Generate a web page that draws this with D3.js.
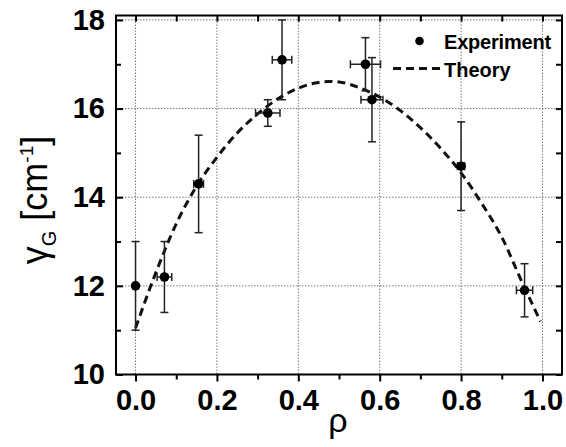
<!DOCTYPE html>
<html>
<head>
<meta charset="utf-8">
<script src="https://cdn.jsdelivr.net/npm/d3@7"></script>
<style>
  body { margin: 0; background: #fff; }
  svg { display: block; font-family: "Liberation Sans", Arial, sans-serif; }
</style>
</head>
<body>
<svg id="chart" width="566" height="447"></svg>
<script>
// experiment: rho, gamma_G and the error bars
const rho     = [0.0, 0.071, 0.155, 0.325, 0.36, 0.565, 0.581, 0.80, 0.956];
const gammaG  = [12.0, 12.2, 14.3, 15.9, 17.1, 17.0, 16.2, 14.7, 11.9];
const yErr    = [1.0, 0.8, 1.1, 0.3, 0.9, 0.6, 0.95, 1.0, 0.6];
const xErr    = [0, 0.018, 0.012, 0.03, 0.024, 0.037, 0.027, 0.009, 0.02];

// theory curve (dashed)
const theoryRho   = [0.0, 0.05, 0.1, 0.15, 0.2, 0.25, 0.3, 0.35, 0.4, 0.45, 0.475, 0.5, 0.55, 0.6, 0.65, 0.7, 0.75, 0.8, 0.85, 0.9, 0.95, 0.995];
const theoryGamma = [11.05, 12.3, 13.4, 14.25, 14.9, 15.45, 15.88, 16.22, 16.46, 16.59, 16.61, 16.6, 16.47, 16.26, 15.96, 15.57, 15.1, 14.55, 13.87, 13.1, 12.08, 11.2];

const xTicks = [0.0, 0.2, 0.4, 0.6, 0.8, 1.0];
const xMinor = [0.1, 0.3, 0.5, 0.7, 0.9];
const yTicks = [10, 12, 14, 16, 18];
const yMinor = [11, 13, 15, 17];

const svg = d3.select("#chart");
const pl = 116, pr = 562, pt = 15.5, pb = 374.5;

const x = d3.scaleLinear().domain([-0.048, 1.048]).range([pl, pr]);
const y = d3.scaleLinear().domain([10, 18.1]).range([pb, pt]);

svg.append("rect").attr("width", 566).attr("height", 447).attr("fill", "#fff");

// dotted grid
const grid = svg.append("g").attr("stroke", "#777").attr("stroke-width", 1).attr("stroke-dasharray", "1.5,1.5");
grid.selectAll(".gx").data(xTicks).enter().append("line")
  .attr("x1", d => x(d)).attr("x2", d => x(d)).attr("y1", pt).attr("y2", pb);
grid.selectAll(".gy").data(yTicks.filter(d => d > 10)).enter().append("line")
  .attr("y1", d => y(d)).attr("y2", d => y(d)).attr("x1", pl).attr("x2", pr);

// axes (Origin style: bottom ticks out, others in)
function styleAxis(g) {
  g.select(".domain").remove();
  g.selectAll(".tick line").attr("stroke", "#000").attr("stroke-width", 2);
  g.selectAll("text").attr("font-size", 29).attr("font-weight", "bold").attr("fill", "#000")
    .attr("font-family", "'Liberation Sans', Arial, sans-serif");
}

svg.append("g").attr("transform", `translate(0,${pb})`)
  .call(d3.axisBottom(x).tickValues(xTicks).tickSize(7).tickPadding(8).tickFormat(d3.format(".1f")))
  .call(styleAxis);
svg.append("g").attr("transform", `translate(0,${pb})`)
  .call(d3.axisBottom(x).tickValues(xMinor).tickSize(5).tickFormat(""))
  .call(styleAxis);

svg.append("g").attr("transform", `translate(0,${pt})`)
  .call(d3.axisTop(x).tickValues(xTicks.concat(xMinor)).tickSize(-6).tickFormat(""))
  .call(styleAxis);

svg.append("g").attr("transform", `translate(${pl},0)`)
  .call(d3.axisLeft(y).tickValues(yTicks).tickSize(-7).tickPadding(11).tickFormat(d3.format("d")))
  .call(styleAxis);
svg.append("g").attr("transform", `translate(${pl},0)`)
  .call(d3.axisLeft(y).tickValues(yMinor).tickSize(-5).tickFormat(""))
  .call(styleAxis);

svg.append("g").attr("transform", `translate(${pr},0)`)
  .call(d3.axisRight(y).tickValues(yTicks.concat(yMinor)).tickSize(-6).tickFormat(""))
  .call(styleAxis);

// frame
svg.append("rect").attr("x", pl).attr("y", pt).attr("width", pr - pl).attr("height", pb - pt)
  .attr("fill", "none").attr("stroke", "#000").attr("stroke-width", 2);

// theory
const theory = theoryRho.map((r, i) => [r, theoryGamma[i]]);
svg.append("path").datum(theory)
  .attr("d", d3.line().x(d => x(d[0])).y(d => y(d[1])).curve(d3.curveMonotoneX))
  .attr("fill", "none").attr("stroke", "#111").attr("stroke-width", 3)
  .attr("stroke-dasharray", "8,5");

// experiment with error bars
const pts = rho.map((r, i) => ({ r: r, g: gammaG[i], ey: yErr[i], ex: xErr[i] }));
const eb = svg.append("g").attr("stroke", "#222").attr("stroke-width", 1.5);
const cap = 4;
pts.forEach(d => {
  eb.append("line").attr("x1", x(d.r)).attr("x2", x(d.r)).attr("y1", y(d.g - d.ey)).attr("y2", y(d.g + d.ey));
  eb.append("line").attr("x1", x(d.r) - cap).attr("x2", x(d.r) + cap).attr("y1", y(d.g + d.ey)).attr("y2", y(d.g + d.ey));
  eb.append("line").attr("x1", x(d.r) - cap).attr("x2", x(d.r) + cap).attr("y1", y(d.g - d.ey)).attr("y2", y(d.g - d.ey));
  if (d.ex > 0) {
    eb.append("line").attr("x1", x(d.r - d.ex)).attr("x2", x(d.r + d.ex)).attr("y1", y(d.g)).attr("y2", y(d.g));
    eb.append("line").attr("x1", x(d.r - d.ex)).attr("x2", x(d.r - d.ex)).attr("y1", y(d.g) - cap).attr("y2", y(d.g) + cap);
    eb.append("line").attr("x1", x(d.r + d.ex)).attr("x2", x(d.r + d.ex)).attr("y1", y(d.g) - cap).attr("y2", y(d.g) + cap);
  }
});
svg.selectAll(".pt").data(pts).enter().append("circle")
  .attr("cx", d => x(d.r)).attr("cy", d => y(d.g)).attr("r", 4.8).attr("fill", "#000");

// legend
const lg = svg.append("g");
lg.append("circle").attr("cx", 419.5).attr("cy", 41).attr("r", 4.3).attr("fill", "#000");
lg.append("text").attr("x", 444).attr("y", 48.5).text("Experiment")
  .attr("font-size", 20).attr("font-weight", "bold").attr("letter-spacing", "-0.2");
lg.append("line").attr("x1", 393).attr("x2", 445).attr("y1", 68.5).attr("y2", 68.5)
  .attr("stroke", "#111").attr("stroke-width", 3).attr("stroke-dasharray", "8,5");
lg.append("text").attr("x", 444).attr("y", 76.5).text("Theory")
  .attr("font-size", 20).attr("font-weight", "bold");

// axis titles
svg.append("text").attr("x", 338).attr("y", 432).attr("text-anchor", "middle")
  .attr("font-size", 34).text("ρ");

const yl = svg.append("text").attr("transform", "translate(47,200) rotate(-90)")
  .attr("text-anchor", "middle").attr("font-size", 36);
yl.append("tspan").text("γ");
yl.append("tspan").attr("font-size", 20).attr("dy", 9).text("G");
yl.append("tspan").attr("dy", -9).text(" [cm");
yl.append("tspan").attr("font-size", 19).attr("dy", -14).text("-1");
yl.append("tspan").attr("dy", 14).text("]");
</script>
</body>
</html>
